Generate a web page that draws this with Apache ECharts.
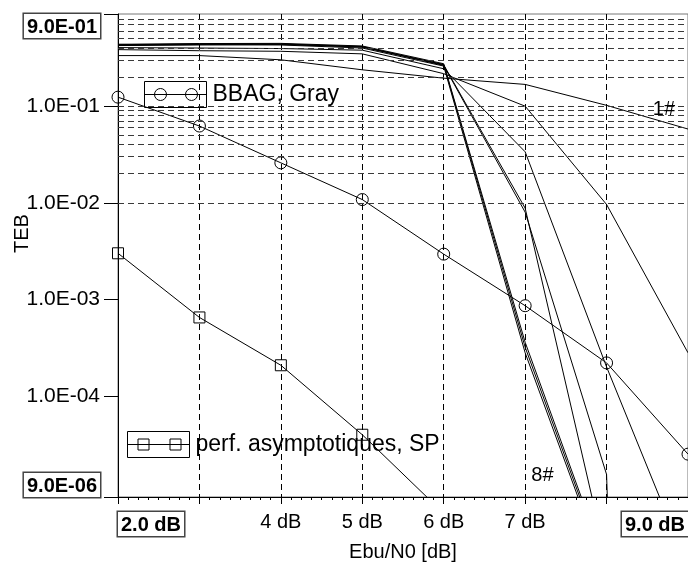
<!DOCTYPE html>
<html><head><meta charset="utf-8">
<script src="https://cdn.jsdelivr.net/npm/echarts@6/dist/echarts.min.js"></script>
<style>html,body{margin:0;padding:0;background:#fff}#c{width:688px;height:568px}</style>
</head><body><div id="c"></div>
<script>
const xValues = [2, 3, 4, 5, 6, 7, 8, 9];
const bbagGray = [0.124, 0.0623, 0.0259, 0.0108, 0.00294, 8.6e-4, 2.2e-4, 2.5e-5];
const perfSP = [3.0e-3, 6.5e-4, 2.08e-4, 3.97e-5, 6.1e-6];
const curve1 = [0.334, 0.334, 0.302, 0.238, 0.195, 0.168, 0.102, 0.058];
const curve2 = [0.385, 0.375, 0.37, 0.348, 0.217, 0.100, 0.0096, 2.8e-4];
const curve3 = [0.404, 0.40, 0.395, 0.38, 0.244, 0.0337, 2.0e-4, 1.7e-6];
const curve4 = [0.424, 0.43, 0.435, 0.41, 0.268, 0.0088, 2.0e-6, 1e-9];
const curve5 = [0.43, 0.44, 0.44, 0.415, 0.264, 0.0080, 1.54e-5, 1e-30];
const curve6 = [0.433, 0.445, 0.447, 0.42, 0.275, 3.6e-4, 1.7e-6, 1e-9];
const curve7 = [0.438, 0.44, 0.44, 0.41, 0.27, 3.2e-4, 1.55e-6, 1e-9];
const curve8 = [0.428, 0.435, 0.43, 0.40, 0.26, 2.8e-4, 1.4e-6, 1e-9];
const curveNames = ['1#', '2#', '3#', '4#', '5#', '6#', '7#', '8#'];
const yTickValues = [9e-6, 1e-4, 1e-3, 1e-2, 1e-1, 0.9];
const yTickLabels = ['9.0E-06', '1.0E-04', '1.0E-03', '1.0E-02', '1.0E-01', '9.0E-01'];
const xTickLabels = ['2.0 dB', '', '4 dB', '5 dB', '6 dB', '7 dB', '', '9.0 dB'];
const annot1 = [8.705, 0.0925];
const annot8 = [7.213, 1.52e-5];

const FONT = 'Liberation Sans';
const curves = [curve1, curve2, curve3, curve4, curve5, curve6, curve7, curve8];
const pairs = arr => arr.map((v, i) => [xValues[i], v]);

// horizontal grid lines at k*10^n
const gridVals = [];
for (let n = -5; n <= -1; n++) for (let k = 1; k <= 9; k++) {
  const v = k * Math.pow(10, n);
  if (v > 9.5e-6 && v < 0.89) gridVals.push(+v.toPrecision(3));
}

const circleIcon = 'path://M0 0L62 0L62 26L0 26Z M0 13L62 13 M22 13A6 6 0 1 1 10 13A6 6 0 1 1 22 13Z M53 13A6 6 0 1 1 41 13A6 6 0 1 1 53 13Z';
const squareIcon = 'path://M0 0L62 0L62 26L0 26Z M0 13L62 13 M10.5 7.5L21.5 7.5L21.5 18.5L10.5 18.5Z M42.5 7.5L53.5 7.5L53.5 18.5L42.5 18.5Z';

const boxRich = {
  b: {fontWeight: 'bold', fontSize: 20, fontFamily: FONT, color: '#000',
      borderColor: '#444', borderWidth: 1.5, padding: [3, 3, 1, 3], backgroundColor: '#fff'}
};

const series = [];
series.push({
  type: 'line', name: 'grid', data: xValues.map(x => [x, null]), silent: true, z: 1,
  symbol: 'none',
  markLine: {silent: true, symbol: 'none', label: {show: false}, animation: false,
    lineStyle: {color: '#3a3a3a', type: [6, 4], width: 1},
    emphasis: {disabled: true},
    data: gridVals.map(v => ({yAxis: v}))}
});
curves.forEach((c, i) => {
  const s = {type: 'line', name: curveNames[i], data: pairs(c), symbol: 'none', z: 3,
    lineStyle: {color: '#000', width: 1}, silent: true};
  if (i === 0) {
    s.markPoint = {symbol: 'circle', symbolSize: 0, silent: true,
      label: {show: true, position: 'inside', fontSize: 20, fontFamily: FONT, color: '#000'},
      data: [{coord: annot1, label: {formatter: '1#'}}, {coord: annot8, label: {formatter: '8#'}}]};
  }
  series.push(s);
});
series.push({type: 'line', name: 'BBAG, Gray', data: pairs(bbagGray), z: 4,
  symbol: 'circle', symbolSize: 12, lineStyle: {color: '#000', width: 1},
  itemStyle: {color: 'transparent', borderColor: '#000', borderWidth: 1}});
series.push({type: 'line', name: 'perf. asymptotiques, SP', data: pairs(perfSP), z: 4,
  symbol: 'rect', symbolSize: 11, lineStyle: {color: '#000', width: 1},
  itemStyle: {color: 'transparent', borderColor: '#000', borderWidth: 1}});

const legendCommon = {
  orient: 'horizontal', itemWidth: 62, itemHeight: 26, padding: 0, selectedMode: false,
  itemStyle: {color: 'transparent', borderColor: '#000', borderWidth: 1},
  textStyle: {fontSize: 23, fontFamily: FONT, color: '#000', padding: [0, 0, 0, 1]}
};

const chart = echarts.init(document.getElementById('c'), null, {renderer: 'canvas'});
chart.setOption({
  animation: false,
  backgroundColor: '#fff',
  textStyle: {fontFamily: FONT},
  grid: {left: 118, right: 0, top: 14, bottom: 71, containLabel: false, outerBoundsMode: 'none',
    show: true, borderColor: '#777', borderWidth: 1, backgroundColor: '#fff'},
  legend: [
    Object.assign({}, legendCommon, {data: ['BBAG, Gray'], left: 144, top: 81, icon: circleIcon}),
    Object.assign({}, legendCommon, {data: ['perf. asymptotiques, SP'], left: 127, top: 431, icon: squareIcon})
  ],
  xAxis: {
    type: 'value', min: 2, max: 9, interval: 1,
    axisLine: {show: true, lineStyle: {color: '#000', width: 1}},
    axisTick: {show: true, length: 7, lineStyle: {color: '#000'}},
    minorTick: {show: true, splitNumber: 8, length: 3, lineStyle: {color: '#000'}},
    splitLine: {show: true, lineStyle: {color: '#000', type: [6, 4], width: 1}},
    axisLabel: {
      margin: 15, fontSize: 20, fontFamily: FONT, color: '#000',
      showMinLabel: true, showMaxLabel: true, alignMinLabel: 'left', alignMaxLabel: 'right',
      formatter: v => {
        const i = xValues.indexOf(Math.round(v));
        const t = i >= 0 ? xTickLabels[i] : '';
        if (i === 0 || i === xValues.length - 1) return '{b|' + t + '}';
        return t;
      },
      rich: boxRich
    },
    name: 'Ebu/N0 [dB]', nameLocation: 'middle', nameGap: 44,
    nameTextStyle: {fontSize: 20, fontFamily: FONT, color: '#000'}
  },
  yAxis: {
    type: 'log', logBase: 10, min: 9e-6, max: 0.9,
    axisLine: {show: true, lineStyle: {color: '#000', width: 1}},
    axisTick: {show: true, length: 14, lineStyle: {color: '#000'}, customValues: yTickValues},
    splitLine: {show: false},
    axisLabel: {
      customValues: yTickValues,
      margin: 18, fontSize: 21, fontFamily: FONT, color: '#000',
      showMinLabel: true, showMaxLabel: true,
      verticalAlignMinLabel: 'bottom', verticalAlignMaxLabel: 'top',
      formatter: v => {
        let best = -1, bd = 1e9;
        yTickValues.forEach((t, i) => {
          const d = Math.abs(Math.log10(t) - Math.log10(v));
          if (d < bd) { bd = d; best = i; }
        });
        if (bd > 0.01) return '';
        const t = yTickLabels[best];
        if (best === 0 || best === yTickValues.length - 1) return '{b|' + t + '}';
        return t;
      },
      rich: boxRich
    },
    name: 'TEB', nameLocation: 'middle', nameGap: 86, nameMoveOverlap: false,
    nameTextStyle: {fontSize: 20, fontFamily: FONT, color: '#000', padding: [0, 0, 0, 44]}
  },
  series: series
});
</script></body></html>
